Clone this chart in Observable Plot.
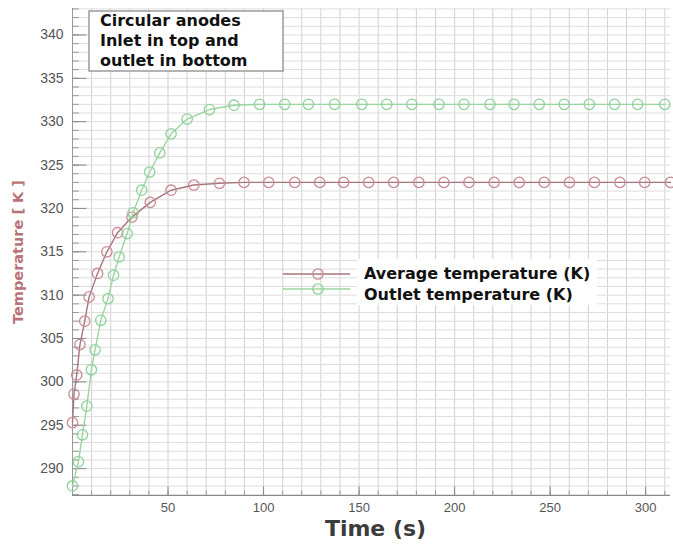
<!DOCTYPE html>
<html><head><meta charset="utf-8">
<script src="https://cdn.jsdelivr.net/npm/d3@7"></script>
<script src="https://cdn.jsdelivr.net/npm/@observablehq/plot@0.6"></script>
<style>
body{margin:0;background:#fff;}
#wrap{position:relative;width:673px;height:544px;overflow:hidden;}
#wrap svg.ov{position:absolute;left:0;top:0;pointer-events:none;}
</style></head><body><div id="wrap"></div>
<script>
// Average temperature series
const avgTime = [0, 0.8, 2.2, 3.9, 6.4, 8.7, 13.1, 18.0, 23.6, 31.1, 40.7, 51.6, 63.5, 76.9, 89.8, 102.7, 116.3, 129.4, 141.9, 155.0, 168.1, 181.3, 194.4, 207.5, 220.7, 233.8, 246.9, 260.1, 273.2, 286.5, 299.5, 313.0];
const avgTemp = [295.3, 298.6, 300.8, 304.3, 307.0, 309.8, 312.5, 315.0, 317.2, 319.0, 320.7, 322.1, 322.7, 322.9, 323.0, 323.0, 323.0, 323.0, 323.0, 323.0, 323.0, 323.0, 323.0, 323.0, 323.0, 323.0, 323.0, 323.0, 323.0, 323.0, 323.0, 323.0];
// Outlet temperature series
const outTime = [0, 3.1, 5.2, 7.5, 9.9, 11.8, 14.8, 18.6, 21.5, 24.4, 28.6, 31.7, 36.2, 40.4, 45.7, 51.6, 60.0, 71.7, 84.5, 97.9, 111.1, 123.5, 137.2, 151.4, 164.5, 177.6, 191.8, 204.9, 218.5, 231.1, 244.3, 257.4, 270.5, 283.7, 295.8, 310.0];
const outTemp = [288.0, 290.8, 293.9, 297.2, 301.4, 303.7, 307.1, 309.6, 312.3, 314.4, 317.1, 319.5, 322.1, 324.2, 326.4, 328.6, 330.3, 331.4, 331.9, 332.0, 332.0, 332.0, 332.0, 332.0, 332.0, 332.0, 332.0, 332.0, 332.0, 332.0, 332.0, 332.0, 332.0, 332.0, 332.0, 332.0];
const yTicks = [290, 295, 300, 305, 310, 315, 320, 325, 330, 335, 340];
const xTicks = [50, 100, 150, 200, 250, 300];
const seriesNames = ["Average temperature (K)", "Outlet temperature (K)"];
const noteLines = ["Circular anodes", "Inlet in top and", "outlet in bottom"];
const xLabel = "Time (s)";
const yLabel = "Temperature [ K ]";

const redLine = "#a8747c", redDot = "#c98a94";
const greenLine = "#9ad69f", greenDot = "#8fd19a";

const avg = avgTime.map((t, i) => ({t, v: avgTemp[i]}));
const out = outTime.map((t, i) => ({t, v: outTemp[i]}));
const xDom = [0, 313], yDom = [286.9, 343.05];
const minorX = d3.range(0, 320, 10);
const minorY = d3.range(287, 344, 1);

const plot = Plot.plot({
  width: 673, height: 544,
  marginLeft: 72, marginRight: 3, marginTop: 8, marginBottom: 49,
  x: {domain: xDom},
  y: {domain: yDom},
  style: {fontFamily: "'Liberation Sans', Arial, sans-serif", fontSize: "13px", color: "#555", background: "#fff"},
  marks: [
    Plot.gridX(minorX, {stroke: "#d2d2d2", strokeOpacity: 1}),
    Plot.gridY(minorY, {stroke: "#dddddd", strokeOpacity: 1}),
    Plot.ruleY(minorY, {x1: xDom[0], x2: 3.6, stroke: "#999"}),
    Plot.ruleY(yTicks, {x1: xDom[0], x2: 7.5, stroke: "#888"}),
    Plot.ruleX(minorX, {y1: yDom[0], y2: yDom[0] + 0.5, stroke: "#999"}),
    Plot.ruleX(xTicks, {y1: yDom[0], y2: yDom[0] + 1.0, stroke: "#888"}),
    Plot.axisY(yTicks, {tickSize: 0, tickPadding: 9, label: null, fontSize: 14, fill: "#555"}),
    Plot.axisX(xTicks, {tickSize: 0, tickPadding: 7, label: null, fontSize: 13, fill: "#555"}),
    Plot.ruleX([xDom[0]], {stroke: "#999"}),
    Plot.ruleY([yDom[0]], {stroke: "#888"}),
    Plot.line(avg, {x: "t", y: "v", stroke: redLine, strokeWidth: 1.4}),
    Plot.dot(avg, {x: "t", y: "v", r: 5.2, stroke: redDot, strokeWidth: 1.3, fill: "none"}),
    Plot.line(out, {x: "t", y: "v", stroke: greenLine, strokeWidth: 1.4}),
    Plot.dot(out, {x: "t", y: "v", r: 5.2, stroke: greenDot, strokeWidth: 1.3, fill: "none"}),
    Plot.text([yLabel], {text: d => d, frameAnchor: "left", textAnchor: "middle", dx: -54, rotate: -90, fontSize: 14.5, fontWeight: "bold", fill: "#b87378", fontFamily: "'DejaVu Sans', sans-serif"}),
    Plot.text([xLabel], {text: d => d, frameAnchor: "bottom", textAnchor: "middle", dx: 4, dy: 40, fontSize: 22, fontWeight: "bold", fill: "#3c3c3c", fontFamily: "'DejaVu Sans', sans-serif"})
  ]
});
const wrap = document.getElementById("wrap");
wrap.appendChild(plot);

// Overlay: annotation box and legend
const ov = d3.select(wrap).append("svg").attr("class", "ov").attr("width", 673).attr("height", 544);
ov.append("rect").attr("x", 89).attr("y", 11).attr("width", 194).attr("height", 60)
  .attr("fill", "#fff").attr("stroke", "#9a9a9a").attr("stroke-width", 1.5);
ov.selectAll("text.note").data(noteLines).join("text").attr("class", "note")
  .attr("x", 100).attr("y", (d, i) => 26 + i * 20)
  .attr("font-family", "'DejaVu Sans', sans-serif").attr("font-weight", "bold").attr("font-size", 16)
  .attr("fill", "#111").text(d => d);

ov.append("rect").attr("x", 357).attr("y", 259).attr("width", 240).attr("height", 46).attr("fill", "#fff");
const legendColors = [[redLine, redDot], [greenLine, greenDot]];
const legendY = [274, 289];
const textY = [279, 300];
seriesNames.forEach((name, i) => {
  ov.append("line").attr("x1", 283).attr("x2", 350).attr("y1", legendY[i]).attr("y2", legendY[i])
    .attr("stroke", legendColors[i][0]).attr("stroke-width", 1.4);
  ov.append("circle").attr("cx", 318).attr("cy", legendY[i]).attr("r", 5.2)
    .attr("fill", "none").attr("stroke", legendColors[i][1]).attr("stroke-width", 1.3);
  ov.append("text").attr("x", 364).attr("y", textY[i])
    .attr("font-family", "'DejaVu Sans', sans-serif").attr("font-weight", "bold").attr("font-size", 16)
    .attr("fill", "#111").text(name);
});
</script>
</body></html>
